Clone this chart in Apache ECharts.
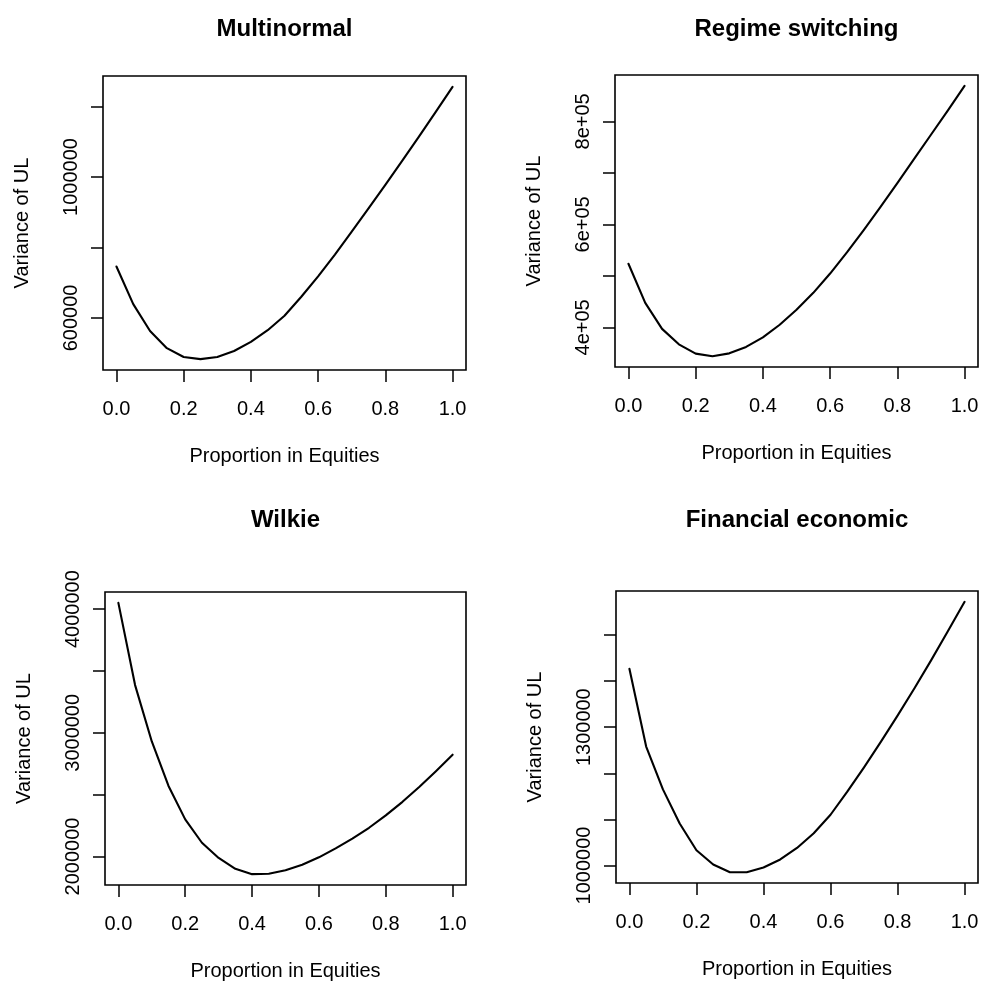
<!DOCTYPE html>
<html>
<head>
<meta charset="utf-8">
<title>Variance of UL by proportion in equities</title>
<script src="https://cdn.jsdelivr.net/npm/echarts@6/dist/echarts.min.js"></script>
<style>
  html, body { margin: 0; padding: 0; background: #fff; }
  #chart { width: 982px; height: 984px; }
</style>
</head>
<body>
<div id="chart"></div>
<script>
// Proportion of assets held in equities
const proportion = [0, 0.05, 0.1, 0.15, 0.2, 0.25, 0.3, 0.35, 0.4, 0.45, 0.5,
                    0.55, 0.6, 0.65, 0.7, 0.75, 0.8, 0.85, 0.9, 0.95, 1.0];

// Variance of UL under each asset model
const multinormal = [746000, 639000, 563000, 514000, 489000, 483000, 489000, 506000, 532000, 565000, 606000,
                     660000, 718000, 780000, 845000, 911000, 978000, 1046000, 1115000, 1185000, 1256000];
const regimeSwitching = [523500, 447500, 397000, 367000, 349000, 344000, 349500, 362000, 380500, 405000, 434000,
                         467000, 504500, 545500, 589000, 634000, 680000, 727000, 774000, 821000, 869000];
const wilkie = [4051000, 3386000, 2930000, 2570000, 2300000, 2111000, 1988000, 1900000, 1857000, 1860000, 1888000,
                1933000, 1993000, 2066000, 2145000, 2232000, 2332000, 2442000, 2562000, 2690000, 2823000];
const financialEconomic = [1426800, 1258000, 1165000, 1091000, 1033000, 1002200, 985400, 985400, 995700, 1013000, 1038000,
                           1070000, 1110000, 1160000, 1213000, 1268000, 1325000, 1384000, 1445000, 1508000, 1572000];

// Axis ticks and the subset of ticks that carry a label
const xTicks = [0, 0.2, 0.4, 0.6, 0.8, 1.0];
const multinormalTicks = [600000, 800000, 1000000, 1200000];
const multinormalLabels = [600000, 1000000];
const regimeTicks = [400000, 500000, 600000, 700000, 800000];
const regimeLabels = [400000, 600000, 800000];
const wilkieTicks = [2000000, 2500000, 3000000, 3500000, 4000000];
const wilkieLabels = [2000000, 3000000, 4000000];
const financialTicks = [1000000, 1100000, 1200000, 1300000, 1400000, 1500000];
const financialLabels = [1000000, 1300000];

const FONT = '"Liberation Sans", Arial, Helvetica, sans-serif';

const plainFmt = v => String(Math.round(v));
// R-style scientific notation, e.g. 4e+05
const sciFmt = v => {
  const parts = v.toExponential(0).split('e');
  const sign = parts[1][0];
  const exp = parts[1].slice(1).padStart(2, '0');
  return parts[0] + 'e' + sign + exp;
};

const panels = [
  { title: 'Multinormal', values: multinormal, yTicks: multinormalTicks, yLabels: multinormalLabels, fmt: plainFmt,
    rect: { left: 103, top: 76, width: 363, height: 294 }, titleTop: 17 },
  { title: 'Regime switching', values: regimeSwitching, yTicks: regimeTicks, yLabels: regimeLabels, fmt: sciFmt,
    rect: { left: 615, top: 75, width: 363, height: 292 }, titleTop: 17 },
  { title: 'Wilkie', values: wilkie, yTicks: wilkieTicks, yLabels: wilkieLabels, fmt: plainFmt,
    rect: { left: 105, top: 592, width: 361, height: 293 }, titleTop: 508 },
  { title: 'Financial economic', values: financialEconomic, yTicks: financialTicks, yLabels: financialLabels, fmt: plainFmt,
    rect: { left: 616, top: 591, width: 362, height: 292 }, titleTop: 508 }
];

const option = {
  animation: false,
  backgroundColor: '#ffffff',
  title: [], grid: [], xAxis: [], yAxis: [], series: []
};

panels.forEach((p, i) => {
  // 4% padding around the data range on each axis
  const lo = Math.min(...p.values);
  const hi = Math.max(...p.values);
  const pad = (hi - lo) * 0.04;

  option.title.push({
    text: p.title,
    left: p.rect.left + p.rect.width / 2,
    top: p.titleTop,
    textAlign: 'center',
    padding: 0,
    textStyle: { fontFamily: FONT, fontSize: 24, fontWeight: 'bold', color: '#000' }
  });

  option.grid.push({
    left: p.rect.left, top: p.rect.top, width: p.rect.width, height: p.rect.height,
    show: true, borderColor: '#000', borderWidth: 1.6, backgroundColor: 'transparent',
    containLabel: false
  });

  option.xAxis.push({
    gridIndex: i, type: 'value', min: -0.04, max: 1.04,
    axisLine: { show: false, onZero: false },
    splitLine: { show: false },
    axisTick: { show: true, length: 12, customValues: xTicks, lineStyle: { color: '#000', width: 1.5 } },
    axisLabel: { customValues: xTicks, formatter: v => v.toFixed(1), margin: 29,
                 fontFamily: FONT, fontSize: 20, color: '#000' },
    name: 'Proportion in Equities', nameLocation: 'middle', nameGap: 76,
    nameTextStyle: { fontFamily: FONT, fontSize: 20, color: '#000' }
  });

  option.yAxis.push({
    gridIndex: i, type: 'value', min: lo - pad, max: hi + pad,
    axisLine: { show: false, onZero: false },
    splitLine: { show: false },
    axisTick: { show: true, length: 12, customValues: p.yTicks, lineStyle: { color: '#000', width: 1.5 } },
    axisLabel: { customValues: p.yLabels, formatter: p.fmt, rotate: 90, margin: 22,
                 fontFamily: FONT, fontSize: 20, color: '#000' },
    name: 'Variance of UL', nameLocation: 'middle', nameGap: 71, nameRotate: 90,
    nameTextStyle: { fontFamily: FONT, fontSize: 20, color: '#000' }
  });

  option.series.push({
    type: 'line', xAxisIndex: i, yAxisIndex: i,
    data: proportion.map((x, j) => [x, p.values[j]]),
    symbol: 'none', showSymbol: false, smooth: false, silent: true,
    lineStyle: { color: '#000', width: 2.1, join: 'round', cap: 'round' }
  });
});

const chart = echarts.init(document.getElementById('chart'), null, { renderer: 'canvas' });
chart.setOption(option);
</script>
</body>
</html>
